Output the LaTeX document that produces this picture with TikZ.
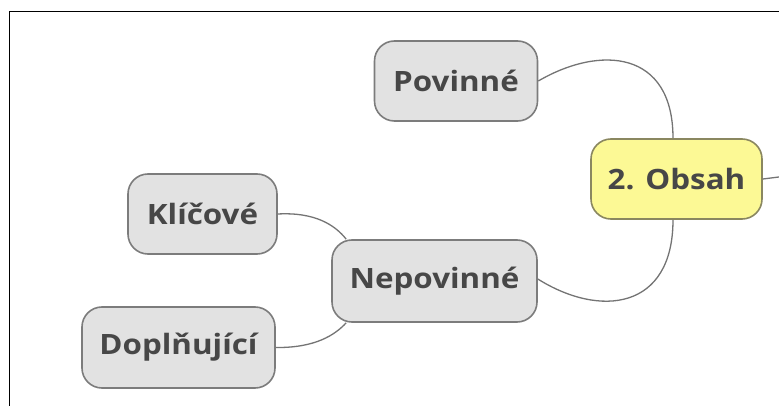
\documentclass[tikz,border=0pt]{standalone}
\usepackage{fontspec}
\setmainfont{Open Sans}[FakeStretch=1.12]
\begin{document}
\begin{tikzpicture}[x=1pt,y=-1pt,
  topic/.style={draw=boxline, fill=boxfill, line width=1.6pt, rounded corners=20pt,
    minimum height=80pt, font=\bfseries\fontsize{28}{32}\selectfont, text=txt, inner sep=0pt},
  central/.style={topic, draw=centralline, fill=centralfill},
  link/.style={draw=linkcol, line width=1.3pt}]
\definecolor{boxfill}{HTML}{E2E2E2}
\definecolor{boxline}{HTML}{7C7C7C}
\definecolor{centralfill}{HTML}{FCF995}
\definecolor{centralline}{HTML}{8A8760}
\definecolor{txt}{HTML}{474747}
\definecolor{linkcol}{HTML}{747474}
\useasboundingbox (0,0) rectangle (779,406);
\fill[white] (0,0) rectangle (779,406);
% frame
\draw[line width=1.8pt, black] (9.5,406) -- (9.5,11.5) -- (779,11.5);
% nodes
\node[central, minimum width=171pt] (obsah) at (676.5,179) {2. Obsah};
\node[topic, minimum width=163pt] (pov) at (456,81) {Povinné};
\node[topic, minimum width=205pt, minimum height=82pt] (nepov) at (434.5,281) {Nepovinné};
\node[topic, minimum width=149pt] (klic) at (202.5,214) {Klíčové};
\node[topic, minimum width=193pt, minimum height=81pt] (dopl) at (178.5,347.5) {Doplňující};
\coordinate (out) at (779,177);
% connectors
\draw[link] ([xshift=-3.5pt]obsah.north) .. controls (673,50) and (600,45) .. (pov.east);
\draw[link] ([xshift=-3.5pt]obsah.south) .. controls (673,310) and (600,318) .. ([yshift=2pt]nepov.east);
\draw[link] (obsah.east) -- (out);
\draw[link] (klic.east) .. controls (315,212) and (335,225) .. ([xshift=15pt]nepov.north west);
\draw[link] (dopl.east) .. controls (315,348) and (335,335) .. ([xshift=15pt]nepov.south west);
\end{tikzpicture}
\end{document}
